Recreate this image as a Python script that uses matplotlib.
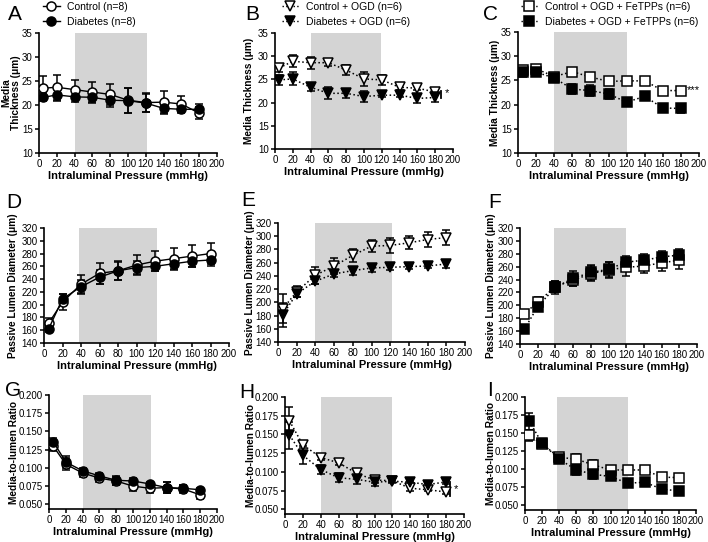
import matplotlib
matplotlib.use("Agg")
import matplotlib.pyplot as plt
from matplotlib import font_manager
import numpy as np

plt.rcParams['font.family'] = ['Liberation Sans', 'DejaVu Sans']
names = {f.name for f in font_manager.fontManager.ttflist}
tick_family = ['Liberation Sans Narrow', 'Liberation Sans'] if 'Liberation Sans Narrow' in names else ['Liberation Sans']

pressure = [5, 20, 40, 60, 80, 100, 120, 140, 160, 180]

# Panel A: media thickness
a_ctrl = [23.5, 23.7, 23.2, 22.7, 22.2, 21.0, 20.5, 20.6, 20.2, 18.3]
a_ctrl_err = [2.5, 2.6, 2.0, 2.1, 2.1, 2.6, 2.0, 2.4, 1.7, 1.3]
a_diab = [21.6, 22.1, 21.7, 21.6, 21.0, 20.9, 20.4, 19.3, 19.1, 19.1]
a_diab_err = [0.8, 1.2, 1.0, 1.2, 1.4, 2.6, 1.9, 1.0, 0.8, 1.1]
# Panel B
b_ctrl = [27.5, 28.9, 28.6, 28.6, 27.0, 25.1, 24.9, 23.3, 23.1, 22.3]
b_ctrl_err = [0.8, 1.3, 1.3, 0.8, 1.0, 1.6, 1.0, 0.5, 0.4, 0.4]
b_diab = [24.9, 25.1, 23.3, 22.0, 22.0, 21.3, 21.6, 21.6, 20.9, 21.1]
b_diab_err = [1.0, 1.4, 0.9, 1.3, 1.0, 1.2, 0.5, 0.5, 1.0, 1.0]
# Panel C
c_ctrl = [27.1, 27.4, 25.8, 26.8, 25.7, 24.8, 24.9, 24.9, 22.9, 22.9]
c_ctrl_err = [0.6, 0.5, 0.5, 0.5, 0.8, 0.6, 0.4, 0.4, 0.4, 0.4]
c_diab = [26.7, 26.7, 25.5, 23.2, 22.9, 22.2, 20.5, 21.7, 19.3, 19.2]
c_diab_err = [1.0, 0.6, 0.6, 1.1, 1.2, 1.0, 0.4, 0.8, 0.8, 1.0]
# Panel D: passive lumen diameter
d_ctrl = [171, 204, 232, 249, 253, 262, 268, 272, 276, 280]
d_ctrl_err = [8, 12, 15, 16, 15, 15, 16, 17, 17, 17]
d_diab = [162, 209, 228, 243, 253, 258, 260, 264, 268, 270]
d_diab_err = [5, 8, 10, 11, 14, 10, 8, 8, 9, 9]
# Panel E
e_ctrl = [190, 216, 241, 255, 271, 285, 286, 290, 295, 298]
e_ctrl_err = [22, 8, 13, 12, 10, 9, 11, 10, 12, 12]
e_diab = [181, 213, 232, 243, 248, 252, 253, 254, 255, 258]
e_diab_err = [18, 5, 5, 4, 6, 6, 4, 3, 3, 6]
# Panel F
f_ctrl = [187, 205, 229, 239, 249, 255, 259, 261, 266, 270]
f_ctrl_err = [6, 8, 8, 9, 12, 13, 13, 11, 13, 14]
f_diab = [163, 198, 228, 242, 251, 256, 267, 270, 275, 278]
f_diab_err = [5, 4, 10, 12, 12, 12, 10, 9, 10, 10]
# Panel G: media-to-lumen ratio
g_ctrl = [0.130, 0.105, 0.093, 0.086, 0.082, 0.075, 0.072, 0.073, 0.071, 0.063]
g_ctrl_err = [0.007, 0.008, 0.005, 0.006, 0.006, 0.007, 0.006, 0.008, 0.006, 0.005]
g_diab = [0.136, 0.108, 0.096, 0.089, 0.083, 0.082, 0.078, 0.073, 0.072, 0.070]
g_diab_err = [0.005, 0.008, 0.004, 0.004, 0.006, 0.004, 0.003, 0.008, 0.005, 0.003]
# Panel H
h_ctrl = [0.168, 0.136, 0.119, 0.112, 0.098, 0.089, 0.088, 0.078, 0.076, 0.073]
h_ctrl_err = [0.018, 0.004, 0.003, 0.003, 0.003, 0.004, 0.002, 0.003, 0.002, 0.003]
h_diab = [0.149, 0.122, 0.103, 0.092, 0.090, 0.086, 0.0875, 0.086, 0.083, 0.0865]
h_diab_err = [0.018, 0.012, 0.006, 0.006, 0.006, 0.005, 0.002, 0.002, 0.002, 0.003]
# Panel I
i_ctrl = [0.147, 0.135, 0.1165, 0.114, 0.106, 0.099, 0.099, 0.099, 0.089, 0.0885]
i_ctrl_err = [0.008, 0.004, 0.004, 0.007, 0.007, 0.004, 0.003, 0.003, 0.002, 0.002]
i_diab = [0.1665, 0.136, 0.114, 0.099, 0.093, 0.090, 0.0807, 0.082, 0.0725, 0.070]
i_diab_err = [0.012, 0.003, 0.003, 0.007, 0.007, 0.004, 0.002, 0.002, 0.002, 0.002]

xlabel = 'Intraluminal Pressure (mmHg)'
W, H = 708, 542
fig = plt.figure(figsize=(W / 100, H / 100), dpi=100)


def make_ax(l, r, t, b):
    return fig.add_axes([l / W, 1 - b / H, (r - l) / W, (b - t) / H])


def style(ax, ylim, yticks, yfmt, shade):
    ax.axvspan(shade[0], shade[1], color='#d4d4d4', zorder=0, lw=0)
    ax.set_xlim(0, 200)
    ax.set_ylim(*ylim)
    ax.set_xticks(range(0, 201, 20))
    ax.set_yticks(yticks)
    ax.set_yticklabels([yfmt.format(v) for v in yticks])
    for s in ['top', 'right']:
        ax.spines[s].set_visible(False)
    for s in ['left', 'bottom']:
        ax.spines[s].set_linewidth(1.2)
    ax.tick_params(direction='out', length=3, width=1.1, labelsize=7, pad=1.5)
    for lab in ax.get_xticklabels() + ax.get_yticklabels():
        lab.set_family(tick_family)


def series(ax, y, err, marker, filled, ls, ms=6.5):
    ax.errorbar(pressure, y, yerr=err, fmt='none', ecolor='black', elinewidth=1.1,
                capsize=3.2, capthick=1.1, zorder=3)
    ax.plot(pressure, y, color='black', ls=ls, lw=1.0 if ls == '-' else 1.1,
            marker=marker, ms=ms, mec='black', mew=1.1,
            mfc='black' if filled else 'white', zorder=4)


specs = [
    # (axes box, ctrl, ctrl_err, diab, diab_err, marker, ls, ylim, yticks, fmt, ylabel, ylabel_x, shade, letter, letterpos, ms)
    ((39, 217, 33, 153), a_ctrl, a_ctrl_err, a_diab, a_diab_err, 'o', '-', (10, 35), list(range(10, 36, 5)), '{:d}',
     'Media\nThickness (\u03bcm)', 11, (40, 121), 'A', (8, 14), 6.5),
    ((275, 453, 33, 149), b_ctrl, b_ctrl_err, b_diab, b_diab_err, 'v', ':', (10, 35), list(range(10, 36, 5)), '{:d}',
     'Media Thickness (\u03bcm)', 249, (40, 119), 'B', (245, 14), 7.5),
    ((518, 699, 32, 153), c_ctrl, c_ctrl_err, c_diab, c_diab_err, 's', ':', (10, 35), list(range(10, 36, 5)), '{:d}',
     'Media Thickness (\u03bcm)', 495, (40, 120), 'C', (483, 14), 7),
    ((44, 229, 228, 343), d_ctrl, d_ctrl_err, d_diab, d_diab_err, 'o', '-', (140, 320), list(range(140, 321, 20)), '{:d}',
     'Passive Lumen Diameter (\u03bcm)', 13, (38, 122), 'D', (6, 203), 6.5),
    ((278, 465, 223, 342), e_ctrl, e_ctrl_err, e_diab, e_diab_err, 'v', ':', (140, 320), list(range(140, 321, 20)), '{:d}',
     'Passive Lumen Diameter (\u03bcm)', 250, (40, 122), 'E', (241, 200), 7.5),
    ((520, 697, 228, 344), f_ctrl, f_ctrl_err, f_diab, f_diab_err, 's', ':', (140, 320), list(range(140, 321, 20)), '{:d}',
     'Passive Lumen Diameter (\u03bcm)', 491, (38, 120), 'F', (488, 203), 7),
    ((49, 217, 395, 509), g_ctrl, g_ctrl_err, g_diab, g_diab_err, 'o', '-', (0.0436, 0.2),
     [0.05, 0.075, 0.1, 0.125, 0.15, 0.175, 0.2], '{:.3f}',
     'Media-to-lumen Ratio', 14, (40, 122), 'G', (5, 390), 6.5),
    ((285, 464, 397, 514), h_ctrl, h_ctrl_err, h_diab, h_diab_err, 'v', ':', (0.0436, 0.2),
     [0.05, 0.075, 0.1, 0.125, 0.15, 0.175, 0.2], '{:.3f}',
     'Media-to-lumen Ratio', 251, (40, 120), 'H', (239, 393), 7.5),
    ((525, 696, 397, 510), i_ctrl, i_ctrl_err, i_diab, i_diab_err, 's', ':', (0.0436, 0.2),
     [0.05, 0.075, 0.1, 0.125, 0.15, 0.175, 0.2], '{:.3f}',
     'Media-to-lumen Ratio', 491, (38, 121), 'I', (487, 390), 7),
]

axes = []
for (box, yc, ec, yd, ed, mk, ls, ylim, yt, fmt, ylab, ylx, shade, letter, lpos, ms) in specs:
    ax = make_ax(*box)
    style(ax, ylim, yt, fmt, shade)
    series(ax, yc, ec, mk, False, ls, ms)
    series(ax, yd, ed, mk, True, ls, ms)
    ycen = (box[2] + box[3]) / 2
    fig.text(ylx / W, 1 - ycen / H, ylab, fontsize=7.3, fontweight='bold', rotation=90,
             ha='center', va='center', linespacing=1.0, multialignment='center')
    ax.set_xlabel(xlabel, fontsize=8, fontweight='bold', labelpad=1)
    fig.text(lpos[0] / W, 1 - lpos[1] / H, letter, fontsize=15, va='center', ha='left')
    axes.append(ax)

# Legends (top row)
legend_specs = [
    (axes[0], 'o', ['Control (n=8)', 'Diabetes (n=8)'], '-', 6.5, (43, 1.5)),
    (axes[1], 'v', ['Control + OGD (n=6)', 'Diabetes + OGD (n=6)'], ':', 7.5, (282, 1.5)),
    (axes[2], 's', ['Control + OGD + FeTPPs (n=6)', 'Diabetes + OGD + FeTPPs (n=6)'], ':', 7, (521, 1.5)),
]
for ax, mk, labels, ls, ms, (lx, ly) in legend_specs:
    handles = [
        plt.Line2D([], [], color='black', ls=ls, lw=1, marker=mk, ms=ms, mfc='white', mec='black', mew=1.1),
        plt.Line2D([], [], color='black', ls=ls, lw=1, marker=mk, ms=ms, mfc='black', mec='black', mew=1.1),
    ]
    fig.legend(handles, labels, loc='upper left', bbox_to_anchor=(lx / W, 1 - ly / H),
               frameon=False, fontsize=7.5, handlelength=1.6, handletextpad=0.7,
               labelspacing=0.5, borderpad=0, borderaxespad=0)

# Significance marks
axes[1].plot([186, 186], [21.0, 22.5], color='black', lw=1.3, clip_on=False)
axes[1].text(191, 22.0, '*', fontsize=8, va='center', ha='left')
axes[2].text(186, 23.0, '***', fontsize=8, va='center', ha='left')
axes[7].plot([184, 184], [0.068, 0.087], color='black', lw=1.3, clip_on=False)
axes[7].text(189, 0.077, '*', fontsize=8, va='center', ha='left')

fig.savefig('out.png', dpi=100)
